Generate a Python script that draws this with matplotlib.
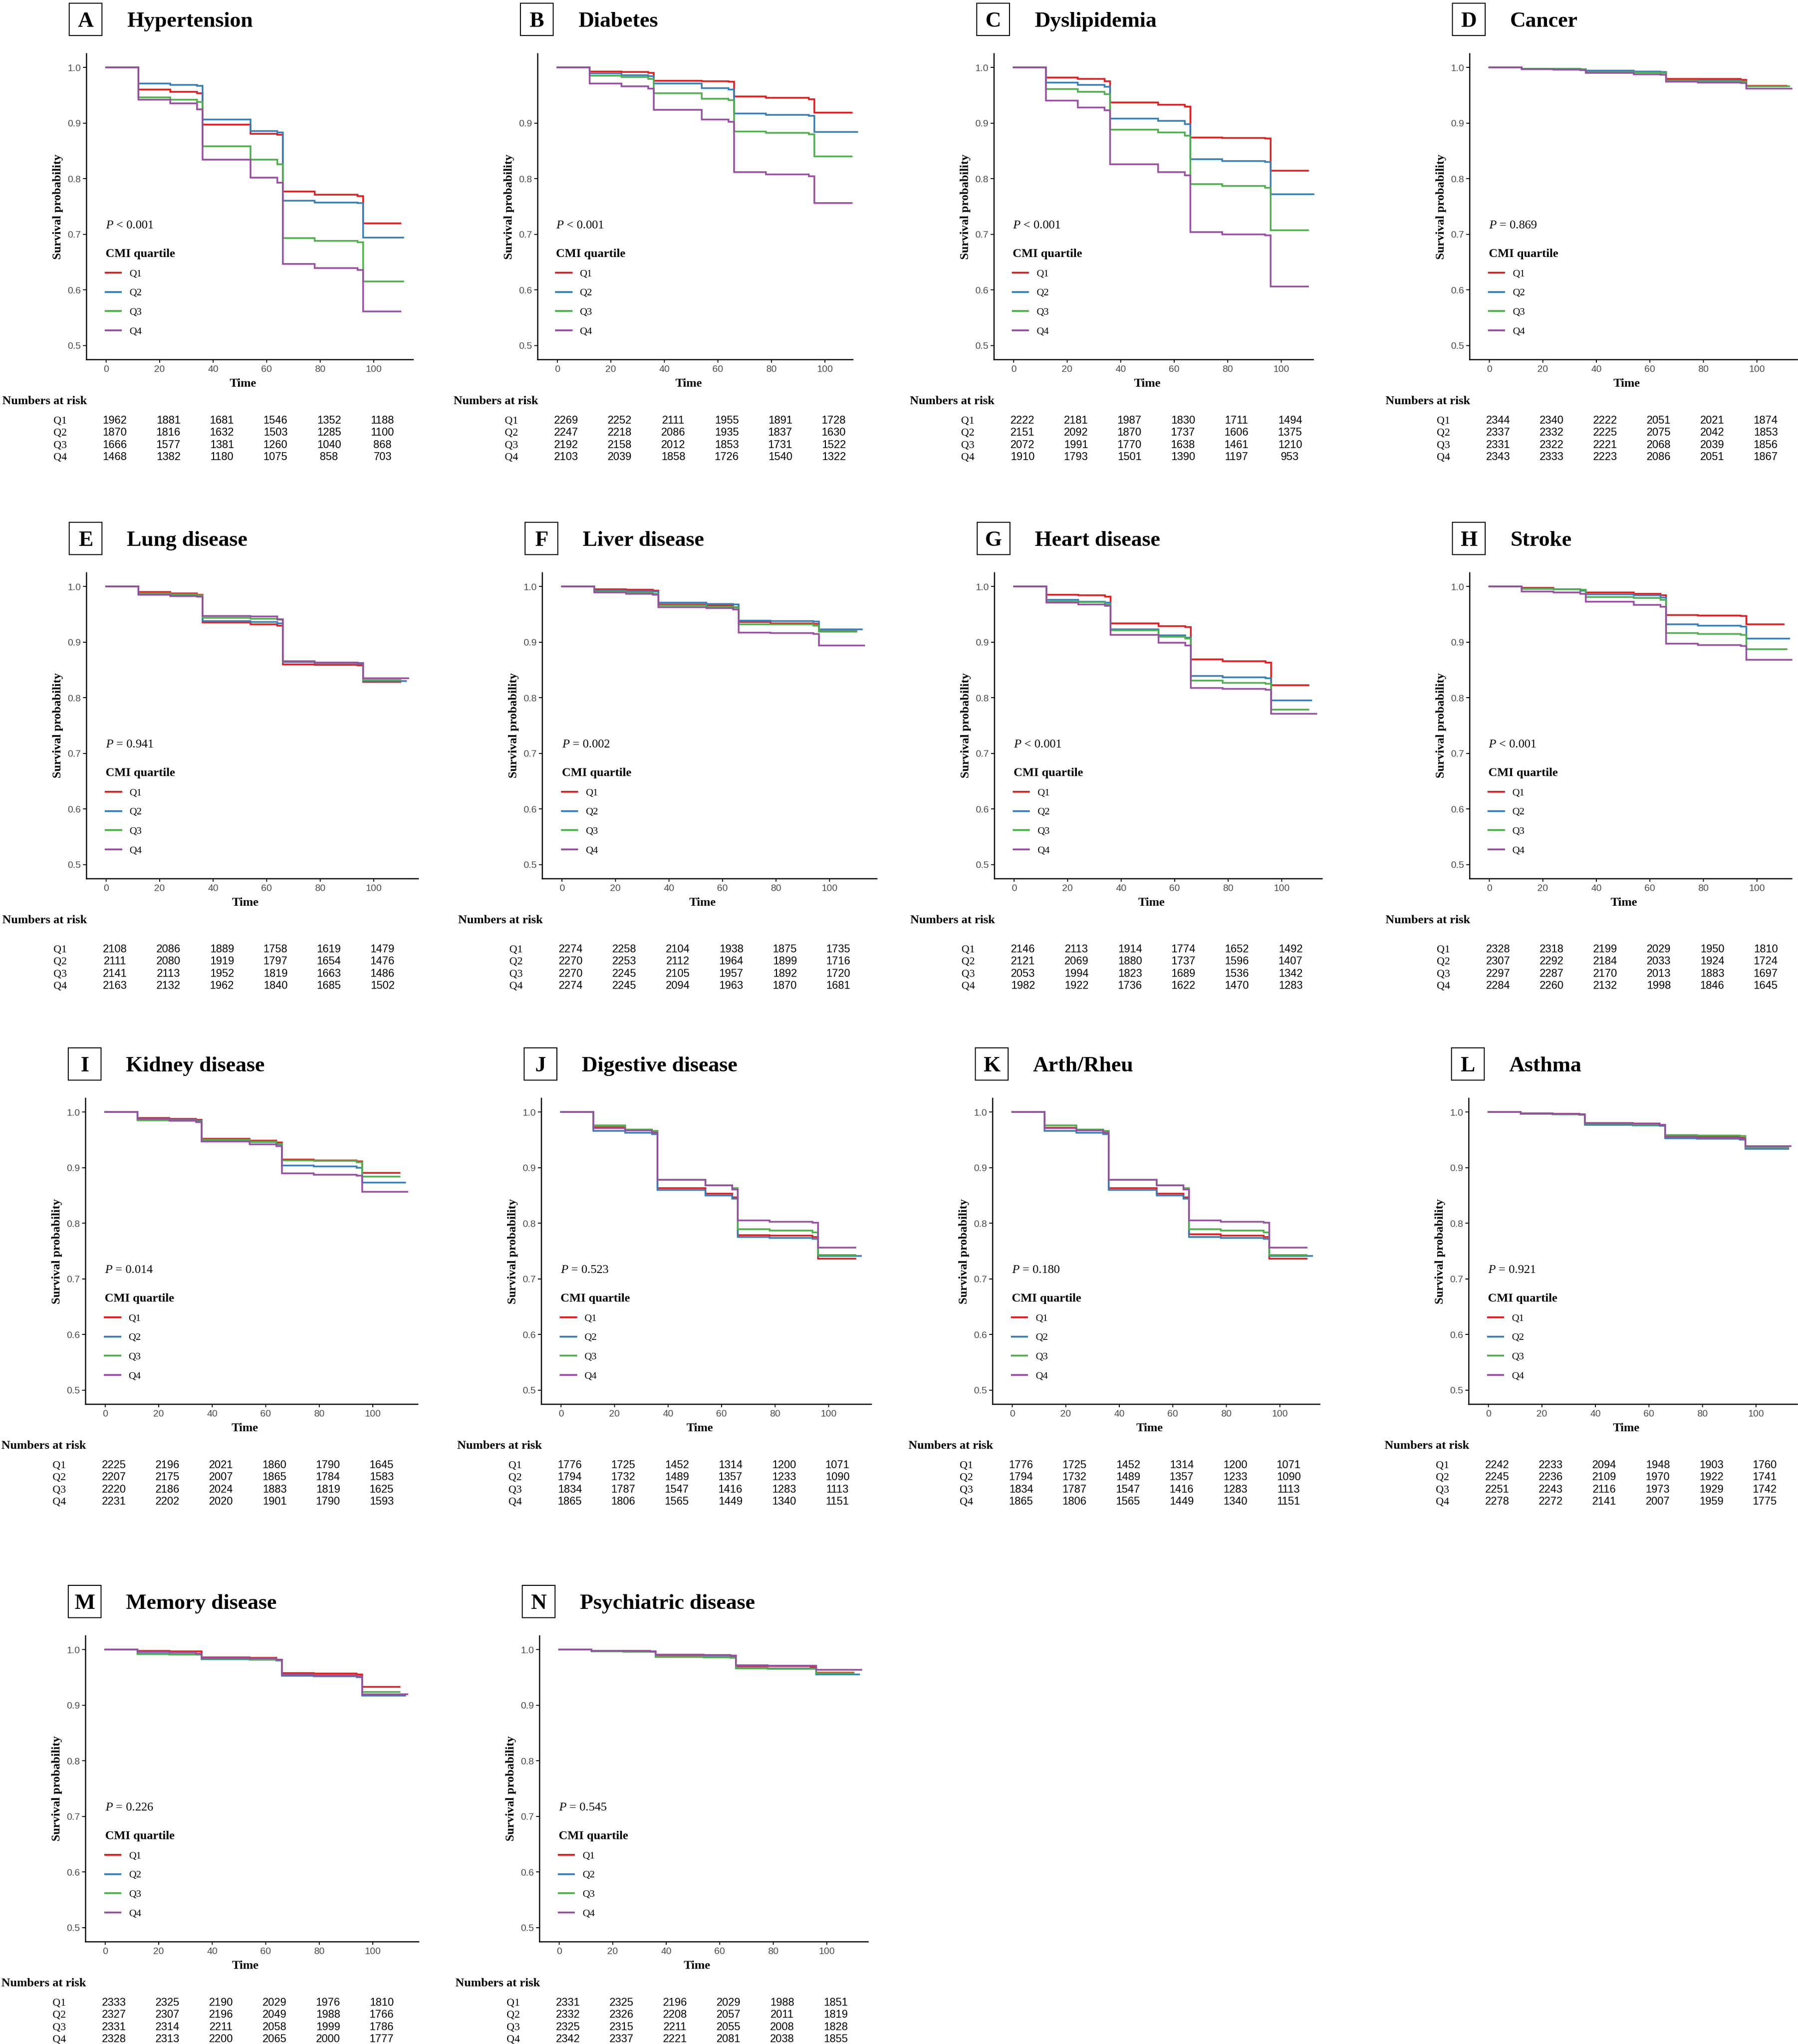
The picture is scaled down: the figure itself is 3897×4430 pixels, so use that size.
import matplotlib
matplotlib.use('Agg')
import matplotlib.pyplot as plt
from matplotlib.patches import Rectangle

plt.rcParams['font.family'] = ['Liberation Serif', 'DejaVu Serif']
plt.rcParams['mathtext.fontset'] = 'custom'
plt.rcParams['mathtext.rm'] = 'Liberation Serif'
plt.rcParams['mathtext.it'] = 'Liberation Serif:italic'

# ---------------- data ----------------
letters = list('ABCDEFGHIJKLMN')
titles = ['Hypertension', 'Diabetes', 'Dyslipidemia', 'Cancer',
          'Lung disease', 'Liver disease', 'Heart disease', 'Stroke',
          'Kidney disease', 'Digestive disease', 'Arth/Rheu', 'Asthma',
          'Memory disease', 'Psychiatric disease']
p_labels = ['< 0.001', '< 0.001', '< 0.001', '= 0.869',
            '= 0.941', '= 0.002', '< 0.001', '< 0.001',
            '= 0.014', '= 0.523', '= 0.180', '= 0.921',
            '= 0.226', '= 0.545']
quartiles = ['Q1', 'Q2', 'Q3', 'Q4']
colors = ['#E41A1C', '#377EB8', '#4DAF4A', '#984EA3']

# survival value holding from each of these times on
step_times = [0, 12, 24, 34, 36, 54, 64, 66, 78, 94, 96]
risk_times = [0, 20, 40, 60, 80, 100]

surv_a = [[1.0, 0.960, 0.956, 0.954, 0.897, 0.881, 0.879, 0.777, 0.771, 0.769, 0.720],
          [1.0, 0.971, 0.969, 0.967, 0.906, 0.886, 0.883, 0.760, 0.757, 0.756, 0.694],
          [1.0, 0.946, 0.942, 0.938, 0.858, 0.834, 0.826, 0.693, 0.688, 0.686, 0.615],
          [1.0, 0.942, 0.935, 0.925, 0.834, 0.802, 0.793, 0.647, 0.639, 0.636, 0.561]]
end_a = [110, 111, 111, 110]
risk_a = [[1962, 1881, 1681, 1546, 1352, 1188],
          [1870, 1816, 1632, 1503, 1285, 1100],
          [1666, 1577, 1381, 1260, 1040, 868],
          [1468, 1382, 1180, 1075, 858, 703]]

surv_b = [[1.0, 0.993, 0.992, 0.990, 0.976, 0.975, 0.974, 0.948, 0.945, 0.943, 0.919],
          [1.0, 0.989, 0.986, 0.984, 0.971, 0.963, 0.960, 0.917, 0.915, 0.913, 0.884],
          [1.0, 0.985, 0.983, 0.979, 0.954, 0.944, 0.941, 0.885, 0.882, 0.880, 0.840],
          [1.0, 0.971, 0.966, 0.962, 0.924, 0.906, 0.902, 0.812, 0.808, 0.804, 0.756]]
end_b = [110, 112, 110, 110]
risk_b = [[2269, 2252, 2111, 1955, 1891, 1728],
          [2247, 2218, 2086, 1935, 1837, 1630],
          [2192, 2158, 2012, 1853, 1731, 1522],
          [2103, 2039, 1858, 1726, 1540, 1322]]

surv_c = [[1.0, 0.982, 0.979, 0.975, 0.937, 0.933, 0.930, 0.874, 0.873, 0.872, 0.814],
          [1.0, 0.973, 0.969, 0.965, 0.908, 0.904, 0.898, 0.835, 0.832, 0.830, 0.772],
          [1.0, 0.961, 0.956, 0.952, 0.888, 0.883, 0.877, 0.790, 0.787, 0.784, 0.707],
          [1.0, 0.940, 0.928, 0.923, 0.826, 0.812, 0.806, 0.704, 0.700, 0.698, 0.606]]
end_c = [110, 112, 110, 110]
risk_c = [[2222, 2181, 1987, 1830, 1711, 1494],
          [2151, 2092, 1870, 1737, 1606, 1375],
          [2072, 1991, 1770, 1638, 1461, 1210],
          [1910, 1793, 1501, 1390, 1197, 953]]

surv_d = [[1.0, 0.998, 0.997, 0.996, 0.993, 0.992, 0.991, 0.979, 0.979, 0.978, 0.967],
          [1.0, 0.998, 0.998, 0.997, 0.994, 0.993, 0.992, 0.977, 0.977, 0.975, 0.966],
          [1.0, 0.998, 0.998, 0.997, 0.992, 0.991, 0.990, 0.976, 0.975, 0.974, 0.966],
          [1.0, 0.997, 0.996, 0.995, 0.990, 0.988, 0.987, 0.974, 0.973, 0.972, 0.962]]
end_d = [111, 111, 112, 113]
risk_d = [[2344, 2340, 2222, 2051, 2021, 1874],
          [2337, 2332, 2225, 2075, 2042, 1853],
          [2331, 2322, 2221, 2068, 2039, 1856],
          [2343, 2333, 2223, 2086, 2051, 1867]]

surv_e = [[1.0, 0.990, 0.988, 0.985, 0.935, 0.932, 0.930, 0.860, 0.859, 0.858, 0.828],
          [1.0, 0.986, 0.984, 0.982, 0.938, 0.936, 0.934, 0.864, 0.862, 0.861, 0.830],
          [1.0, 0.988, 0.986, 0.984, 0.944, 0.942, 0.940, 0.865, 0.863, 0.862, 0.832],
          [1.0, 0.985, 0.983, 0.982, 0.947, 0.946, 0.941, 0.866, 0.863, 0.862, 0.835]]
end_e = [110, 112, 110, 113]
risk_e = [[2108, 2086, 1889, 1758, 1619, 1479],
          [2111, 2080, 1919, 1797, 1654, 1476],
          [2141, 2113, 1952, 1819, 1663, 1486],
          [2163, 2132, 1962, 1840, 1685, 1502]]

surv_f = [[1.0, 0.995, 0.994, 0.993, 0.968, 0.966, 0.963, 0.936, 0.934, 0.933, 0.920],
          [1.0, 0.993, 0.992, 0.991, 0.971, 0.969, 0.968, 0.939, 0.938, 0.937, 0.923],
          [1.0, 0.991, 0.989, 0.987, 0.966, 0.964, 0.962, 0.932, 0.932, 0.930, 0.919],
          [1.0, 0.989, 0.987, 0.985, 0.963, 0.961, 0.959, 0.917, 0.916, 0.915, 0.894]]
end_f = [110, 112, 110, 113]
risk_f = [[2274, 2258, 2104, 1938, 1875, 1735],
          [2270, 2253, 2112, 1964, 1899, 1716],
          [2270, 2245, 2105, 1957, 1892, 1720],
          [2274, 2245, 2094, 1963, 1870, 1681]]

surv_g = [[1.0, 0.985, 0.984, 0.982, 0.934, 0.929, 0.927, 0.869, 0.866, 0.863, 0.823],
          [1.0, 0.976, 0.973, 0.971, 0.923, 0.912, 0.908, 0.839, 0.837, 0.835, 0.795],
          [1.0, 0.973, 0.972, 0.968, 0.921, 0.910, 0.906, 0.831, 0.827, 0.825, 0.779],
          [1.0, 0.971, 0.968, 0.965, 0.913, 0.899, 0.894, 0.818, 0.816, 0.814, 0.771]]
end_g = [110, 111, 110, 113]
risk_g = [[2146, 2113, 1914, 1774, 1652, 1492],
          [2121, 2069, 1880, 1737, 1596, 1407],
          [2053, 1994, 1823, 1689, 1536, 1342],
          [1982, 1922, 1736, 1622, 1470, 1283]]

surv_h = [[1.0, 0.998, 0.995, 0.993, 0.989, 0.987, 0.984, 0.949, 0.948, 0.947, 0.932],
          [1.0, 0.996, 0.995, 0.993, 0.986, 0.984, 0.980, 0.932, 0.930, 0.928, 0.906],
          [1.0, 0.996, 0.995, 0.994, 0.981, 0.979, 0.976, 0.916, 0.915, 0.913, 0.887],
          [1.0, 0.991, 0.989, 0.987, 0.973, 0.967, 0.964, 0.897, 0.895, 0.893, 0.868]]
end_h = [110, 112, 111, 113]
risk_h = [[2328, 2318, 2199, 2029, 1950, 1810],
          [2307, 2292, 2184, 2033, 1924, 1724],
          [2297, 2287, 2170, 2013, 1883, 1697],
          [2284, 2260, 2132, 1998, 1846, 1645]]

surv_i = [[1.0, 0.989, 0.988, 0.986, 0.952, 0.949, 0.945, 0.915, 0.913, 0.911, 0.891],
          [1.0, 0.988, 0.986, 0.984, 0.948, 0.946, 0.942, 0.904, 0.902, 0.900, 0.873],
          [1.0, 0.985, 0.985, 0.983, 0.950, 0.947, 0.943, 0.913, 0.912, 0.910, 0.884],
          [1.0, 0.988, 0.984, 0.982, 0.947, 0.942, 0.939, 0.890, 0.887, 0.886, 0.857]]
end_i = [110, 112, 110, 113]
risk_i = [[2225, 2196, 2021, 1860, 1790, 1645],
          [2207, 2175, 2007, 1865, 1784, 1583],
          [2220, 2186, 2024, 1883, 1819, 1625],
          [2231, 2202, 2020, 1901, 1790, 1593]]

surv_j = [[1.0, 0.973, 0.968, 0.965, 0.863, 0.853, 0.847, 0.779, 0.778, 0.775, 0.736],
          [1.0, 0.966, 0.963, 0.960, 0.860, 0.850, 0.844, 0.775, 0.774, 0.772, 0.741],
          [1.0, 0.976, 0.969, 0.966, 0.878, 0.868, 0.863, 0.789, 0.787, 0.784, 0.743],
          [1.0, 0.971, 0.967, 0.963, 0.878, 0.868, 0.861, 0.805, 0.803, 0.801, 0.756]]
end_j = [110, 112, 110, 110]
risk_j = [[1776, 1725, 1452, 1314, 1200, 1071],
          [1794, 1732, 1489, 1357, 1233, 1090],
          [1834, 1787, 1547, 1416, 1283, 1113],
          [1865, 1806, 1565, 1449, 1340, 1151]]

surv_k = [[1.0, 0.972, 0.968, 0.965, 0.863, 0.853, 0.847, 0.780, 0.778, 0.775, 0.736],
          [1.0, 0.966, 0.963, 0.960, 0.860, 0.850, 0.844, 0.775, 0.774, 0.772, 0.741],
          [1.0, 0.976, 0.969, 0.966, 0.878, 0.868, 0.863, 0.789, 0.787, 0.784, 0.743],
          [1.0, 0.971, 0.967, 0.963, 0.878, 0.868, 0.861, 0.805, 0.803, 0.801, 0.756]]
end_k = [110, 112, 110, 110]
risk_k = [[1776, 1725, 1452, 1314, 1200, 1071],
          [1794, 1732, 1489, 1357, 1233, 1090],
          [1834, 1787, 1547, 1416, 1283, 1113],
          [1865, 1806, 1565, 1449, 1340, 1151]]

surv_l = [[1.0, 0.998, 0.997, 0.996, 0.980, 0.979, 0.977, 0.957, 0.956, 0.954, 0.937],
          [1.0, 0.997, 0.996, 0.995, 0.977, 0.976, 0.975, 0.953, 0.952, 0.950, 0.934],
          [1.0, 0.997, 0.996, 0.995, 0.979, 0.978, 0.977, 0.959, 0.958, 0.957, 0.937],
          [1.0, 0.998, 0.997, 0.996, 0.980, 0.979, 0.977, 0.955, 0.954, 0.952, 0.939]]
end_l = [112, 112, 112, 113]
risk_l = [[2242, 2233, 2094, 1948, 1903, 1760],
          [2245, 2236, 2109, 1970, 1922, 1741],
          [2251, 2243, 2116, 1973, 1929, 1742],
          [2278, 2272, 2141, 2007, 1959, 1775]]

surv_m = [[1.0, 0.998, 0.997, 0.997, 0.986, 0.985, 0.982, 0.958, 0.957, 0.955, 0.933],
          [1.0, 0.993, 0.992, 0.991, 0.983, 0.982, 0.980, 0.953, 0.952, 0.950, 0.917],
          [1.0, 0.992, 0.991, 0.991, 0.984, 0.982, 0.981, 0.955, 0.954, 0.952, 0.924],
          [1.0, 0.996, 0.995, 0.993, 0.985, 0.984, 0.982, 0.955, 0.954, 0.952, 0.920]]
end_m = [110, 112, 110, 113]
risk_m = [[2333, 2325, 2190, 2029, 1976, 1810],
          [2327, 2307, 2196, 2049, 1988, 1766],
          [2331, 2314, 2211, 2058, 1999, 1786],
          [2328, 2313, 2200, 2065, 2000, 1777]]

surv_n = [[1.0, 0.998, 0.998, 0.997, 0.990, 0.990, 0.988, 0.970, 0.970, 0.969, 0.959],
          [1.0, 0.998, 0.997, 0.996, 0.987, 0.987, 0.986, 0.967, 0.966, 0.966, 0.955],
          [1.0, 0.997, 0.996, 0.996, 0.987, 0.986, 0.985, 0.966, 0.965, 0.965, 0.958],
          [1.0, 0.998, 0.998, 0.997, 0.991, 0.990, 0.989, 0.972, 0.971, 0.971, 0.964]]
end_n = [110, 112, 110, 113]
risk_n = [[2331, 2325, 2196, 2029, 1988, 1851],
          [2332, 2326, 2208, 2057, 2011, 1819],
          [2325, 2315, 2211, 2055, 2008, 1828],
          [2342, 2337, 2221, 2081, 2038, 1855]]

surv = [surv_a, surv_b, surv_c, surv_d, surv_e, surv_f, surv_g,
        surv_h, surv_i, surv_j, surv_k, surv_l, surv_m, surv_n]
ends = [end_a, end_b, end_c, end_d, end_e, end_f, end_g,
        end_h, end_i, end_j, end_k, end_l, end_m, end_n]
risks = [risk_a, risk_b, risk_c, risk_d, risk_e, risk_f, risk_g,
         risk_h, risk_i, risk_j, risk_k, risk_l, risk_m, risk_n]

# ---------------- layout (pixels) ----------------
W, H = 3898, 4430
panel_left = [187, 1165, 2154, 3185, 187, 1175, 2155, 3185, 185, 1173, 2151, 3183, 185, 1169]
panel_right = [895, 1848, 2846, 3895, 906, 1900, 2865, 3883, 905, 1888, 2860, 3895, 907, 1881]
row_top = [116, 1241, 2380, 3545]
ax_h = 663
px_per_unit = 5.8
x_left = -7.4
table_shift = [0.0, 0.032, 0.0, 0.0]

fig = plt.figure(figsize=(W / 100, H / 100), dpi=100)

for i in range(14):
    r = i // 4
    left, right, top = panel_left[i], panel_right[i], row_top[r]
    ax = fig.add_axes([left / W, 1 - (top + ax_h) / H, (right - left) / W, ax_h / H])
    ax.set_xlim(x_left, x_left + (right - left) / px_per_unit)
    ax.set_ylim(0.475, 1.025)

    for q in range(4):
        t = step_times + [ends[i][q]]
        s = surv[i][q] + [surv[i][q][-1]]
        ax.step(t, s, where='post', color=colors[q], lw=2.6, label=quartiles[q],
                clip_on=False, solid_joinstyle='miter')

    for sp in ['top', 'right']:
        ax.spines[sp].set_visible(False)
    for sp in ['left', 'bottom']:
        ax.spines[sp].set_linewidth(1.8)

    ax.set_xticks(risk_times)
    if i == 1:
        ax.set_yticks([0.5, 0.6, 0.7, 0.8, 0.9])
    else:
        ax.set_yticks([0.5, 0.6, 0.7, 0.8, 0.9, 1.0])
    ax.tick_params(labelsize=15, labelcolor='#4D4D4D', length=5, width=1.4)
    for lab in ax.get_xticklabels() + ax.get_yticklabels():
        lab.set_fontfamily('Liberation Sans')

    ax.set_ylabel('Survival probability', fontsize=19, fontweight='bold')
    ax.yaxis.set_label_coords(-50 / (right - left), 0.5)
    ax.set_xlabel('Time', fontsize=19, fontweight='bold')
    ax.xaxis.set_label_coords(0.48, -0.062)

    ax.text(0.059, 0.437, '$P$ ' + p_labels[i], transform=ax.transAxes,
            fontsize=19, va='center', ha='left')

    leg = ax.legend(title='CMI quartile', loc='upper left', bbox_to_anchor=(0.059, 0.362),
                    frameon=False, fontsize=16, alignment='left',
                    title_fontproperties={'weight': 'bold', 'size': 19},
                    handlelength=1.5, handletextpad=0.8, labelspacing=0.95,
                    borderpad=0, borderaxespad=0)
    for ln in leg.get_lines():
        ln.set_linewidth(2.8)

    # numbers at risk table
    tr = ax.get_xaxis_transform()
    sh = table_shift[r]
    ax.text(-38.7, -0.136, 'Numbers at risk', transform=tr, fontsize=19,
            fontweight='bold', ha='left', va='center')
    row_y = [-0.200, -0.240, -0.280, -0.320]
    for q in range(4):
        ax.text(-19.7, row_y[q] - sh, quartiles[q], transform=tr, fontsize=17,
                ha='left', va='center')
        for k, tt in enumerate(risk_times):
            ax.text(tt + 3.3, row_y[q] - sh, str(risks[i][q][k]), transform=tr,
                    fontsize=17, family='Liberation Sans', ha='center', va='center')

    # panel letter box and title
    fig.add_artist(Rectangle(((left - 37) / W, 1 - (top - 39) / H), 71 / W, 70 / H,
                             transform=fig.transFigure, fill=False, ec='black', lw=1.6))
    fig.text((left - 1.5) / W, 1 - (top - 58) / H, letters[i], fontsize=34,
             fontweight='bold', ha='center', va='baseline')
    fig.text((left + 88) / W, 1 - (top - 58) / H, titles[i], fontsize=34,
             fontweight='bold', ha='left', va='baseline')

fig.savefig('out.png', dpi=100, facecolor='white')
